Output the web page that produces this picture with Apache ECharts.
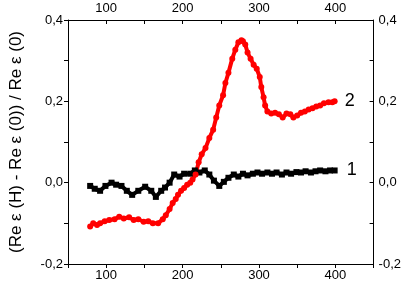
<!DOCTYPE html>
<html>
<head>
<meta charset="utf-8">
<script src="https://cdn.jsdelivr.net/npm/echarts@6/dist/echarts.min.js"></script>
<style>html,body{margin:0;padding:0;background:#fff}#c{width:404px;height:285px}</style>
</head>
<body>
<div id="c"></div>
<script>
// Data (temperature-like x, relative change y)
const blackX = [79,85,92,99,107,113,120,127,134,142,151,159,165,172,177,183,189,196,202,210,216,222,229,235,241,248,254,260,267,273,279,285,292,298,304,311,317,323,330,336,342,349,355,361,368,374,380,387,393,399];
const blackY = [-0.008,-0.015,-0.02,-0.008,0.0,-0.005,-0.008,-0.02,-0.03,-0.02,-0.01,-0.02,-0.035,-0.02,-0.012,0.0,0.02,0.015,0.022,0.022,0.03,0.025,0.03,0.02,0.005,-0.008,0.002,0.012,0.02,0.015,0.022,0.018,0.022,0.025,0.022,0.025,0.022,0.025,0.02,0.025,0.022,0.026,0.025,0.028,0.025,0.028,0.03,0.028,0.03,0.03];
const redX = [79,83,88,92,98,104,111,117,123,130,136,142,149,155,161,168,174,178,183,187,191,194,198,202,206,210,213,217,221,225,230,235,240,244,248,253,256,260,265,269,273,277,279,282,285,289,293,297,301,303,306,308,311,316,321,326,331,336,341,345,350,355,360,365,370,375,380,385,391,396,399];
const redY = [-0.108,-0.1,-0.104,-0.1,-0.095,-0.092,-0.09,-0.084,-0.088,-0.085,-0.092,-0.09,-0.096,-0.095,-0.1,-0.1,-0.09,-0.08,-0.065,-0.05,-0.04,-0.03,-0.02,-0.013,-0.005,0.0,0.008,0.02,0.05,0.07,0.085,0.11,0.13,0.16,0.19,0.215,0.245,0.27,0.305,0.327,0.345,0.35,0.348,0.34,0.32,0.305,0.29,0.28,0.26,0.235,0.21,0.19,0.175,0.17,0.172,0.168,0.16,0.17,0.168,0.16,0.165,0.172,0.175,0.18,0.183,0.187,0.19,0.195,0.198,0.198,0.2];
const xTickLabels = [100,200,300,400];
const yTickLabels = [-0.2,0.0,0.2,0.4];
const seriesNames = ['1','2'];
const yTitle = '(Re \u03b5 (H) - Re \u03b5 (0)) / Re \u03b5 (0)';

const font = 'Liberation Sans, Arial, sans-serif';
const zip = (xs, ys) => xs.map((x, i) => [x, ys[i]]);
const xFmt = v => xTickLabels.includes(Math.round(v)) ? String(Math.round(v)) : '';
const yFmt = v => {
  const r = Math.round(v * 10) / 10;
  const hit = yTickLabels.some(t => Math.abs(t - r) < 1e-9);
  return hit ? r.toFixed(1).replace('.', ',') : '';
};
const axisCommonX = {
  type: 'value', min: 50, max: 450, interval: 50,
  axisLine: {onZero: false, lineStyle: {color: '#000', width: 1}},
  splitLine: {show: false},
  axisLabel: {formatter: xFmt, color: '#000', fontSize: 13, fontFamily: font, margin: 5}
};
const axisCommonY = {
  type: 'value', min: -0.2, max: 0.4, interval: 0.1,
  axisLine: {onZero: false, lineStyle: {color: '#000', width: 1}},
  splitLine: {show: false},
  axisLabel: {formatter: yFmt, color: '#000', fontSize: 13, fontFamily: font, margin: 5}
};

const chart = echarts.init(document.getElementById('c'), null, {renderer: 'canvas'});
chart.setOption({
  animation: false,
  backgroundColor: '#fff',
  grid: {left: 57, right: 30, top: 20, bottom: 21, containLabel: false},
  xAxis: [
    Object.assign({}, axisCommonX, {position: 'bottom', axisTick: {inside: false, length: 4, lineStyle: {color: '#000'}}}),
    Object.assign({}, axisCommonX, {position: 'top', axisTick: {inside: true, length: 4, lineStyle: {color: '#000'}}})
  ],
  yAxis: [
    Object.assign({}, axisCommonY, {position: 'left', name: yTitle, nameLocation: 'middle', nameGap: 43, nameRotate: 90,
      nameTextStyle: {color: '#000', fontSize: 17, fontFamily: font},
      axisTick: {inside: false, length: 4, lineStyle: {color: '#000'}}}),
    Object.assign({}, axisCommonY, {position: 'right', axisTick: {inside: true, length: 4, lineStyle: {color: '#000'}}})
  ],
  series: [
    {
      name: seriesNames[0], type: 'line', data: zip(blackX, blackY),
      symbol: 'rect', symbolSize: 6, showAllSymbol: true,
      itemStyle: {color: '#000'}, lineStyle: {color: '#000', width: 4},
      endLabel: {show: true, formatter: seriesNames[0], color: '#000', fontSize: 18, fontFamily: font, distance: 12}
    },
    {
      name: seriesNames[1], type: 'line', data: zip(redX, redY),
      symbol: 'circle', symbolSize: 6, showAllSymbol: true,
      itemStyle: {color: '#ff0000'}, lineStyle: {color: '#ff0000', width: 4},
      endLabel: {show: true, formatter: seriesNames[1], color: '#000', fontSize: 18, fontFamily: font, distance: 10}
    }
  ]
});
</script>
</body>
</html>
